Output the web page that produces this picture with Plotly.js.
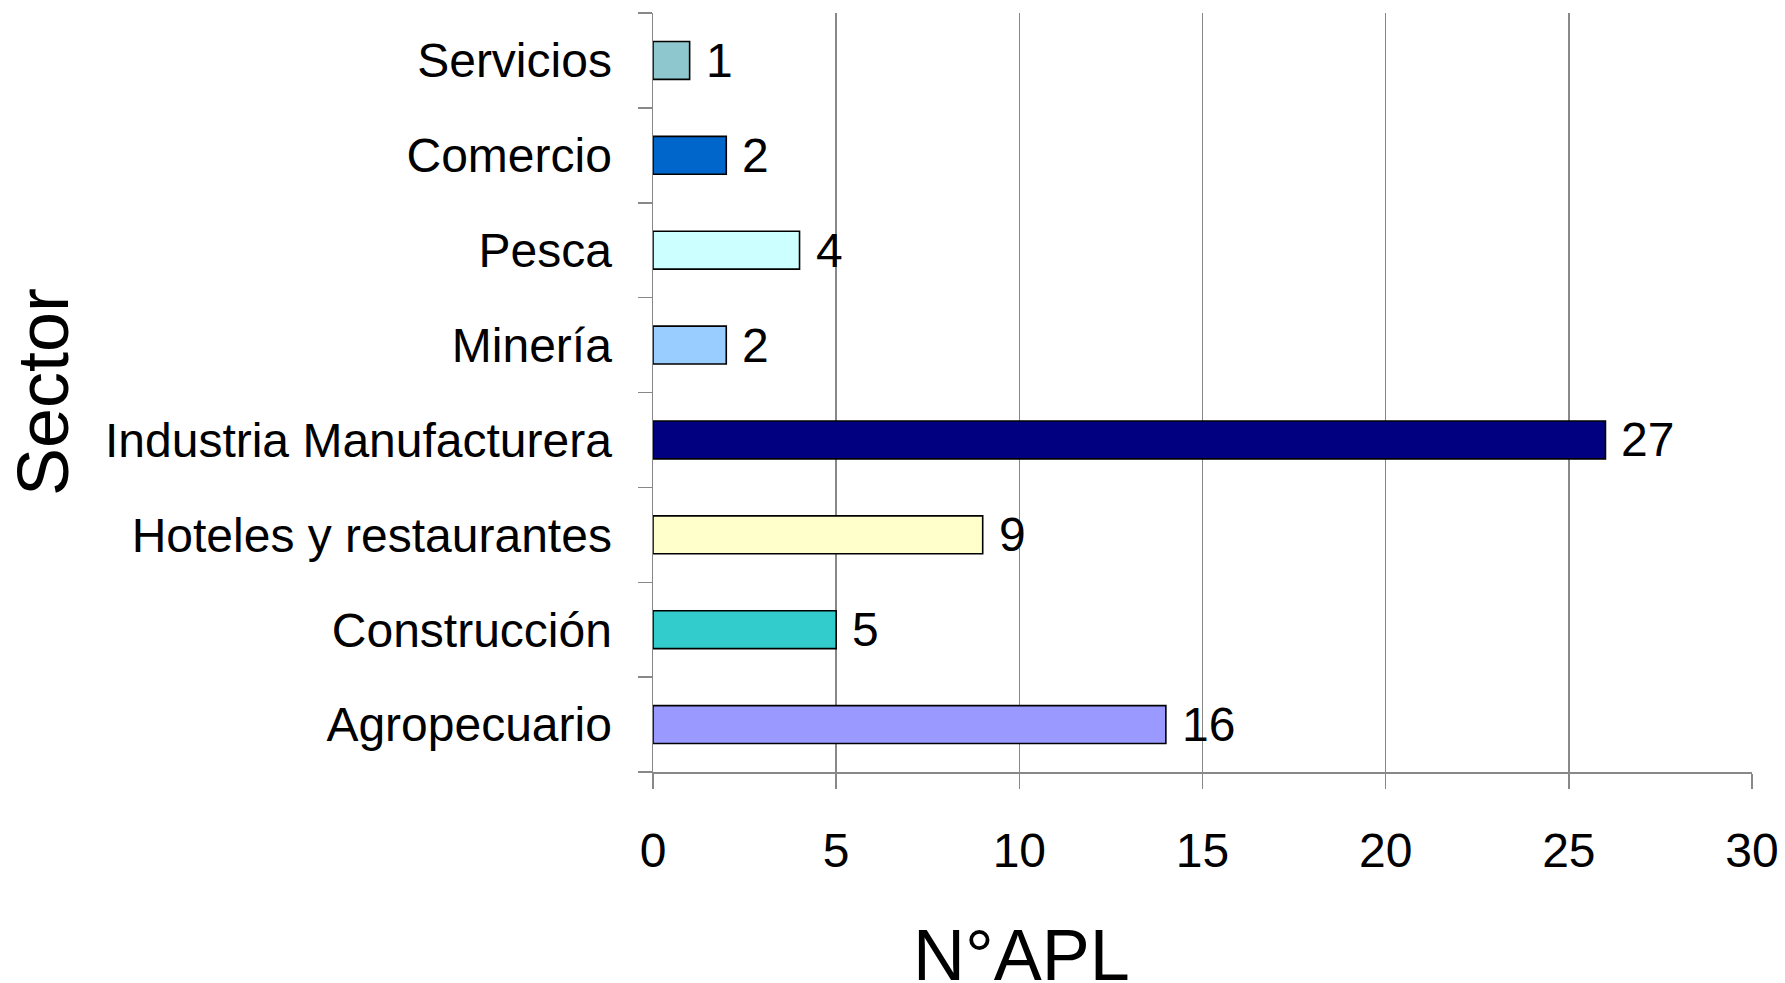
<!DOCTYPE html>
<html>
<head>
<meta charset="utf-8">
<script src="https://cdn.plot.ly/plotly-3.0.1.min.js"></script>
<style>html,body{margin:0;padding:0;background:#fff;}#chart{width:1785px;height:983px;}</style>
</head>
<body>
<div id="chart"></div>
<script>
const categories = ["Agropecuario","Construcción","Hoteles y restaurantes","Industria Manufacturera","Minería","Pesca","Comercio","Servicios"];
const barValues = [14, 5, 9, 26, 2, 4, 2, 1];
const labelTexts = ["16", "5", "9", "27", "2", "4", "2", "1"];
const barColors = ["#9999FF","#33CCCC","#FFFFCC","#000080","#99CCFF","#CCFFFF","#0066CC","#8EC8CE"];
const xTickVals = [0, 5, 10, 15, 20, 25, 30];
const xTitle = "N°APL";
const yTitle = "Sector";

const FONT = "Liberation Sans, Arial, sans-serif";
const GRID = "#888888";

const trace = {
  type: "bar",
  orientation: "h",
  y: categories,
  x: barValues,
  width: 0.4,
  marker: {color: barColors, line: {color: "#000", width: 1.6}},
  hoverinfo: "none"
};

const annotations = categories.map((c, i) => ({
  x: barValues[i], y: c, xref: "x", yref: "y",
  text: labelTexts[i], showarrow: false,
  xanchor: "left", yanchor: "middle", xshift: 14,
  font: {family: FONT, size: 48, color: "#000"}
}));
annotations.push({
  x: 0.335, y: -0.241, xref: "paper", yref: "paper",
  text: xTitle, showarrow: false, xanchor: "center", yanchor: "middle",
  font: {family: FONT, size: 72, color: "#000"}
});
annotations.push({
  x: -0.5555, y: 0.5, xref: "paper", yref: "paper",
  text: yTitle, showarrow: false, xanchor: "center", yanchor: "middle",
  textangle: -90,
  font: {family: FONT, size: 72, color: "#000"}
});

const layout = {
  width: 1785, height: 983,
  margin: {l: 653, r: 33, t: 13, b: 211, pad: 0},
  paper_bgcolor: "#fff", plot_bgcolor: "#fff",
  showlegend: false,
  font: {family: FONT, size: 48, color: "#000"},
  xaxis: {
    range: [0, 30], tickvals: xTickVals, ticktext: xTickVals.map(String),
    showgrid: true, gridcolor: GRID, gridwidth: 1.5,
    zeroline: false, showline: true, linecolor: GRID, linewidth: 1.5,
    ticks: "outside", ticklen: 15, tickcolor: GRID, tickwidth: 1.5,
    ticklabelstandoff: 21,
    tickfont: {family: FONT, size: 48, color: "#000"},
    fixedrange: true
  },
  yaxis: {
    type: "category", categoryorder: "array", categoryarray: categories,
    range: [-0.5, 7.5],
    showgrid: false, zeroline: false, showline: true, linecolor: GRID, linewidth: 1.5,
    ticks: "outside", ticklen: 14, tickcolor: GRID, tickwidth: 1.5, tickson: "boundaries",
    ticklabelstandoff: 30,
    tickfont: {family: FONT, size: 48, color: "#000"},
    fixedrange: true
  },
  annotations: annotations
};

Plotly.newPlot("chart", [trace], layout, {displayModeBar: false, staticPlot: true});
</script>
</body>
</html>
